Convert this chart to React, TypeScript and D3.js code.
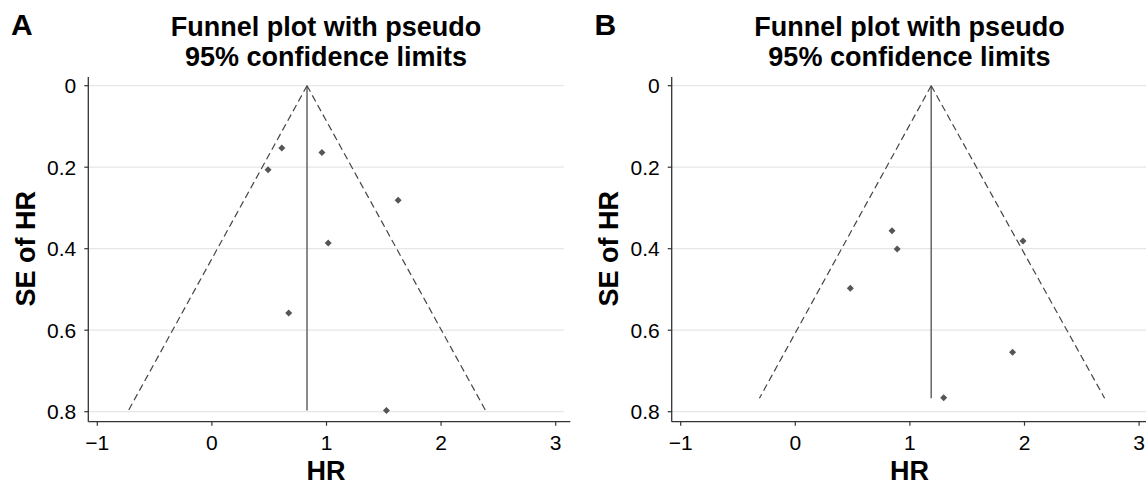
import React from "react";
import * as d3 from "d3";

// study estimates
const hrA = [0.61, 0.49, 0.96, 1.625, 1.015, 0.67, 1.523];
const seA = [0.153, 0.206, 0.164, 0.281, 0.386, 0.558, 0.797];
const hrB = [0.844, 0.889, 0.48, 1.987, 1.896, 1.295];
const seB = [0.356, 0.401, 0.497, 0.381, 0.654, 0.766];

// pooled estimate and pseudo 95% limits at the largest SE
const pooledA = 0.83;
const maxSeA = 0.797;
const limitsA = [-0.728, 2.388];
const pooledB = 1.186;
const maxSeB = 0.767;
const limitsB = [-0.313, 2.699];

const xTicks = [-1, 0, 1, 2, 3];
const yTicks = [0, 0.2, 0.4, 0.6, 0.8];
const titleLines = ["Funnel plot with pseudo", "95% confidence limits"];

const FONT = "'Liberation Sans', Arial, sans-serif";

type PanelProps = {
  dx: number;
  letter: string;
  hr: number[];
  se: number[];
  pooled: number;
  maxSe: number;
  limits: number[];
};

function Panel({ dx, letter, hr, se, pooled, maxSe, limits }: PanelProps) {
  const left = 88.3;
  const right = 563.7;
  const axisY = 421.7;
  const x = d3.scaleLinear().domain([-1, 3]).range([97.3, 555.7]);
  const y = d3.scaleLinear().domain([0, 0.8]).range([85.7, 411.7]);

  const funnel = d3
    .line<[number, number]>()
    .x((d) => x(d[0]))
    .y((d) => y(d[1]));

  const leftLimit: [number, number][] = [
    [pooled, 0],
    [limits[0], maxSe],
  ];
  const rightLimit: [number, number][] = [
    [pooled, 0],
    [limits[1], maxSe],
  ];
  const cx = (left + right) / 2;

  return (
    <g transform={`translate(${dx},0)`} fontFamily={FONT}>
      <text x={11} y={35} fontSize={30} fontWeight="bold">
        {letter}
      </text>
      {titleLines.map((t, i) => (
        <text
          key={t}
          x={cx}
          y={36 + i * 29.5}
          fontSize={27}
          fontWeight="bold"
          textAnchor="middle"
        >
          {t}
        </text>
      ))}

      {yTicks.map((t) => (
        <line
          key={"g" + t}
          x1={left}
          x2={right}
          y1={y(t)}
          y2={y(t)}
          stroke="#e6e6e6"
          strokeWidth={1.3}
        />
      ))}

      <line x1={left} x2={left} y1={77} y2={axisY} stroke="#333" strokeWidth={1.3} />
      <line x1={left} x2={left + 482} y1={axisY} y2={axisY} stroke="#333" strokeWidth={1.3} />

      {yTicks.map((t) => (
        <g key={"y" + t}>
          <line x1={left - 4} x2={left} y1={y(t)} y2={y(t)} stroke="#333" strokeWidth={1.2} />
          <text x={left - 12} y={y(t) + 7.5} fontSize={21} textAnchor="end">
            {t === 0 ? "0" : t.toFixed(1)}
          </text>
        </g>
      ))}
      {xTicks.map((t) => (
        <g key={"x" + t}>
          <line x1={x(t)} x2={x(t)} y1={axisY} y2={axisY + 4} stroke="#333" strokeWidth={1.2} />
          <text x={x(t)} y={449.5} fontSize={21} textAnchor="middle">
            {t < 0 ? "\u2212" + Math.abs(t) : String(t)}
          </text>
        </g>
      ))}

      <text x={cx} y={480} fontSize={27} fontWeight="bold" textAnchor="middle">
        HR
      </text>
      <text
        transform={`translate(34.5,${(y(0) + y(0.8)) / 2}) rotate(-90)`}
        fontSize={27}
        fontWeight="bold"
        textAnchor="middle"
      >
        SE of HR
      </text>

      <line
        x1={x(pooled)}
        x2={x(pooled)}
        y1={y(0)}
        y2={y(maxSe)}
        stroke="#6e6e6e"
        strokeWidth={1.6}
      />
      <path d={funnel(leftLimit) || ""} fill="none" stroke="#444" strokeWidth={1.2} strokeDasharray="7,4" />
      <path d={funnel(rightLimit) || ""} fill="none" stroke="#444" strokeWidth={1.2} strokeDasharray="7,4" />

      {hr.map((h, i) => {
        const px = x(h);
        const py = y(se[i]);
        const r = 3.5;
        return (
          <path
            key={"p" + i}
            d={`M${px},${py - r}L${px + r},${py}L${px},${py + r}L${px - r},${py}Z`}
            fill="#555"
          />
        );
      })}
    </g>
  );
}

export default function App() {
  return (
    <svg
      width={1146}
      height={485}
      style={{ position: "absolute", left: 0, top: 0, background: "#fff" }}
    >
      <rect width={1146} height={485} fill="#fff" />
      <Panel dx={0} letter="A" hr={hrA} se={seA} pooled={pooledA} maxSe={maxSeA} limits={limitsA} />
      <Panel dx={583.4} letter="B" hr={hrB} se={seB} pooled={pooledB} maxSe={maxSeB} limits={limitsB} />
    </svg>
  );
}
